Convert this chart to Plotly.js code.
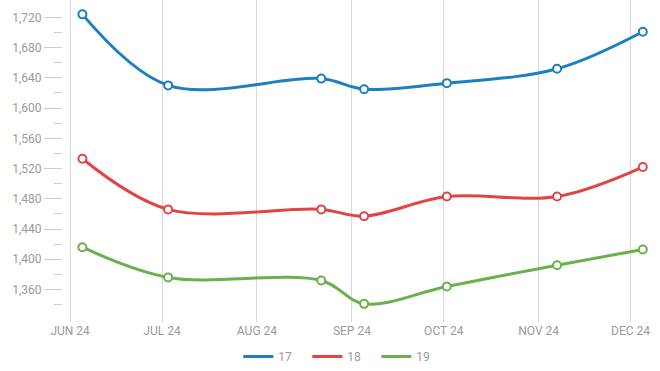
<!DOCTYPE html>
<html>
<head>
<meta charset="utf-8">
<script src="https://cdn.plot.ly/plotly-3.0.1.min.js"></script>
<style>html,body{margin:0;padding:0;background:#fff;}#chart{width:660px;height:371px;}</style>
</head>
<body>
<div id="chart"></div>
<script>
const dates = ['2024-06-05','2024-07-03','2024-08-22','2024-09-05','2024-10-02','2024-11-07','2024-12-05'];
const series17 = [1724, 1630, 1639, 1625, 1633, 1652, 1701];
const series18 = [1533, 1466, 1466, 1457, 1483, 1483, 1522];
const series19 = [1416, 1376, 1372, 1341, 1364, 1392, 1413];
const seriesNames = ['17', '18', '19'];
const colors = ['#1b7fc0', '#e04545', '#6ab04c'];
const monthTicks = ['2024-06-01','2024-07-01','2024-08-01','2024-09-01','2024-10-01','2024-11-01','2024-12-01'];
const monthLabels = ['JUN 24','JUL 24','AUG 24','SEP 24','OCT 24','NOV 24','DEC 24'];
const yMajorTicks = [1360, 1400, 1440, 1480, 1520, 1560, 1600, 1640, 1680, 1720];
const yMinorTicks = [1340, 1380, 1420, 1460, 1500, 1540, 1580, 1620, 1660, 1700];

const allSeries = [series17, series18, series19];
const traces = [];
allSeries.forEach((s, i) => {
  traces.push({
    x: dates, y: s, name: seriesNames[i], type: 'scatter', mode: 'lines+markers', showlegend: false,
    line: {color: colors[i], width: 3, shape: 'spline', smoothing: 1},
    marker: {size: 8, color: '#ffffff', line: {color: colors[i], width: 2}}
  });
});
allSeries.forEach((s, i) => {
  traces.push({
    x: [null], y: [null], name: seriesNames[i], type: 'scatter', mode: 'lines', showlegend: true,
    line: {color: colors[i], width: 3}
  });
});

const layout = {
  width: 660, height: 371,
  margin: {l: 63, r: 8, t: 0, b: 49, autoexpand: false},
  paper_bgcolor: '#fff', plot_bgcolor: '#fff',
  font: {family: 'Roboto, sans-serif', size: 12, color: '#9a9a9a'},
  showlegend: true,
  legend: {orientation: 'h', x: 0.4734, xanchor: 'center', y: -0.062, yanchor: 'top',
           font: {size: 12, color: '#9a9a9a'}, entrywidth: 24, entrywidthmode: 'pixels', itemwidth: 30},
  xaxis: {
    type: 'date', range: ['2024-05-29 16:00', '2024-12-08'],
    tickvals: monthTicks, ticktext: monthLabels,
    showgrid: true, gridcolor: '#d9d9d9', gridwidth: 1,
    zeroline: false, showline: false, ticks: '', tickfont: {size: 12, color: '#9a9a9a'}
  },
  yaxis: {
    range: [1317, 1743], tickvals: yMajorTicks, tickformat: ',d',
    showgrid: false, zeroline: false, showline: false,
    ticks: 'outside', ticklen: 18, tickcolor: '#cccccc', tickwidth: 1,
    minor: {tickvals: yMinorTicks, ticks: 'outside', ticklen: 8, tickcolor: '#cccccc', showgrid: false},
    tickfont: {size: 12, color: '#9a9a9a'}
  }
};
Plotly.newPlot('chart', traces, layout, {displayModeBar: false, staticPlot: true});
</script>
</body>
</html>
